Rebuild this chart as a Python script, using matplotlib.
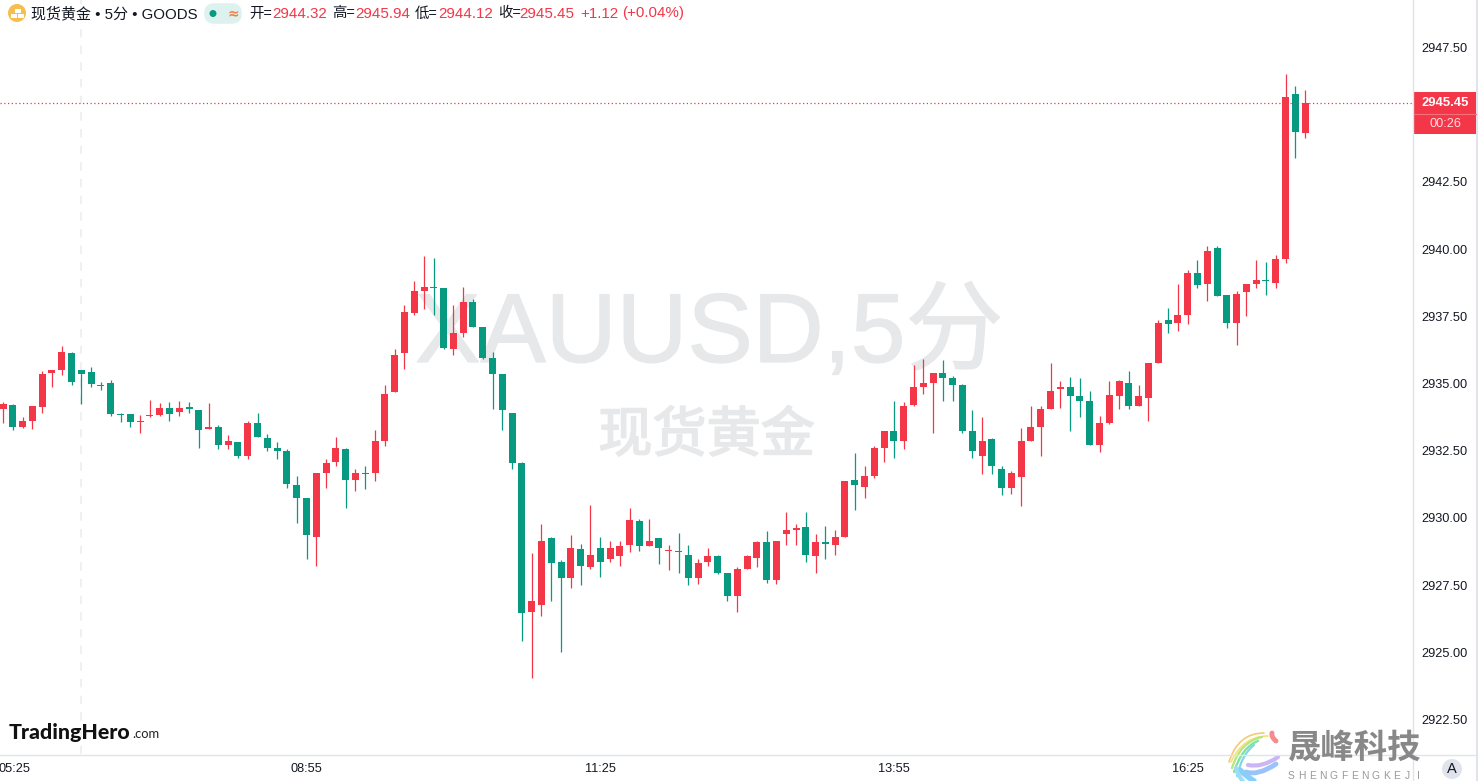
import matplotlib
matplotlib.use("Agg")
import matplotlib.pyplot as plt
import matplotlib.patheffects as pe
from matplotlib.patches import Circle, FancyBboxPatch, Rectangle, PathPatch
from matplotlib.path import Path

opens = [2934.04,2934.19,2933.37,2933.60,2934.12,2935.38,2935.49,2936.13,2935.49,2935.42,
2934.94,2935.01,2933.86,2933.86,2933.56,2933.78,2933.82,2934.08,2933.93,2934.12,
2934.01,2933.30,2933.37,2932.70,2932.82,2932.29,2933.55,2932.96,2932.62,2932.51,
2931.21,2930.73,2929.28,2931.69,2932.07,2932.55,2931.40,2931.66,2931.66,2932.85,
2934.67,2936.12,2937.61,2938.43,2938.58,2938.54,2936.27,2936.90,2938.02,2937.09,
2935.97,2935.34,2933.89,2932.03,2926.49,2926.78,2929.24,2928.35,2927.75,2928.83,
2928.16,2928.90,2928.49,2928.57,2928.98,2929.87,2928.94,2929.24,2928.76,2928.76,
2928.61,2927.75,2928.35,2928.57,2927.94,2927.08,2928.09,2928.53,2929.09,2927.68,
2929.42,2929.54,2929.65,2928.57,2929.09,2928.98,2929.31,2931.40,2931.17,2931.58,
2932.59,2933.22,2932.85,2934.19,2934.89,2935.04,2935.41,2935.19,2934.93,2933.22,
2932.32,2932.92,2931.84,2931.10,2931.51,2932.88,2933.40,2934.04,2934.78,2934.89,
2934.52,2934.37,2932.70,2933.55,2934.52,2935.04,2934.15,2934.48,2935.78,2937.35,
2937.27,2937.57,2939.10,2938.69,2940.03,2938.28,2937.24,2938.39,2938.72,2938.83,
2938.76,2939.62,2945.76,2944.32]
highs = [2934.30,2934.23,2933.75,2934.16,2935.46,2935.49,2936.39,2936.16,2935.49,2935.61,
2935.05,2935.12,2933.90,2933.86,2933.82,2934.38,2934.27,2934.30,2934.34,2934.30,
2934.01,2934.27,2933.45,2933.08,2932.82,2933.59,2933.89,2933.14,2932.81,2932.55,
2931.58,2930.73,2931.69,2932.21,2933.00,2932.59,2931.84,2931.95,2933.26,2934.93,
2936.27,2937.94,2938.80,2939.73,2939.69,2938.54,2937.94,2938.58,2938.13,2937.09,
2936.16,2935.34,2933.89,2932.07,2928.68,2929.76,2929.28,2928.42,2929.35,2929.02,
2930.50,2929.28,2929.13,2929.16,2930.36,2929.98,2929.98,2929.24,2928.98,2929.43,
2928.98,2928.49,2928.87,2928.61,2927.97,2928.16,2928.64,2929.13,2929.50,2929.16,
2930.24,2929.76,2930.24,2929.42,2929.72,2929.57,2931.36,2932.40,2931.92,2932.66,
2933.22,2934.34,2934.30,2935.71,2935.90,2935.41,2935.86,2935.27,2934.97,2934.00,
2933.74,2932.96,2931.92,2931.73,2933.33,2934.18,2934.18,2935.75,2935.08,2935.23,
2935.19,2934.71,2933.78,2935.08,2935.15,2935.45,2934.93,2935.75,2937.35,2937.83,
2938.69,2939.24,2939.58,2940.10,2940.10,2938.31,2938.43,2938.69,2939.58,2939.54,
2939.80,2946.50,2946.06,2945.94]
lows = [2933.52,2933.26,2933.34,2933.30,2933.90,2934.86,2935.31,2934.94,2934.23,2934.86,
2934.75,2933.78,2933.56,2933.37,2933.15,2933.75,2933.78,2933.60,2933.78,2933.90,
2932.59,2933.30,2932.56,2932.56,2932.22,2932.18,2933.00,2932.51,2932.21,2931.10,
2929.83,2928.46,2928.23,2931.10,2931.92,2930.39,2931.02,2931.06,2931.36,2932.66,
2934.67,2935.56,2937.57,2937.76,2937.57,2936.27,2936.08,2936.72,2937.09,2935.93,
2934.04,2933.29,2931.84,2925.41,2924.03,2926.37,2926.93,2925.00,2927.38,2927.49,
2928.12,2927.79,2928.38,2928.23,2928.72,2928.76,2928.94,2928.27,2928.05,2927.94,
2927.49,2927.53,2928.23,2927.90,2926.93,2926.52,2928.09,2928.16,2927.60,2927.53,
2928.98,2928.98,2928.38,2927.94,2928.49,2928.61,2929.31,2930.28,2930.73,2931.47,
2932.07,2932.22,2932.55,2934.15,2934.63,2933.15,2934.37,2934.34,2933.15,2932.25,
2931.62,2931.65,2930.87,2930.91,2930.46,2932.85,2932.29,2934.04,2934.11,2933.25,
2933.74,2932.70,2932.47,2933.48,2934.04,2934.07,2934.15,2933.59,2935.75,2936.90,
2936.97,2937.20,2938.57,2938.09,2938.24,2937.05,2936.42,2937.53,2938.54,2938.28,
2938.54,2939.47,2943.38,2944.12]
closes = [2934.23,2933.37,2933.60,2934.16,2935.35,2935.49,2936.16,2935.05,2935.35,2934.97,
2934.90,2933.86,2933.82,2933.56,2933.60,2933.82,2934.08,2933.86,2934.08,2934.04,
2933.26,2933.37,2932.70,2932.85,2932.30,2933.55,2933.00,2932.62,2932.48,2931.25,
2930.73,2929.35,2931.69,2932.03,2932.59,2931.40,2931.66,2931.62,2932.85,2934.60,
2936.05,2937.68,2938.46,2938.58,2938.54,2936.31,2936.90,2938.02,2937.09,2935.97,
2935.34,2934.00,2932.03,2926.45,2926.93,2929.16,2928.31,2927.75,2928.87,2928.23,
2928.61,2928.38,2928.90,2928.94,2929.91,2928.94,2929.16,2928.90,2928.79,2928.72,
2927.75,2928.31,2928.57,2927.97,2927.08,2928.09,2928.57,2929.09,2927.71,2929.16,
2929.54,2929.61,2928.61,2929.09,2929.02,2929.31,2931.36,2931.21,2931.58,2932.59,
2933.22,2932.88,2934.15,2934.86,2935.04,2935.38,2935.19,2934.93,2933.22,2932.48,
2932.85,2931.92,2931.10,2931.69,2932.85,2933.40,2934.07,2934.74,2934.89,2934.52,
2934.37,2932.70,2933.55,2934.56,2935.11,2934.15,2934.52,2935.75,2937.27,2937.20,
2937.57,2939.10,2938.65,2939.95,2938.24,2937.24,2938.35,2938.69,2938.87,2938.80,
2939.65,2945.68,2944.35,2945.45]
price_ticks = [2922.5,2925.0,2927.5,2930.0,2932.5,2935.0,2937.5,2940.0,2942.5,2947.5]
time_ticks = [1.15,31,61,91,121]
time_labels = ["05:25","08:55","11:25","13:55","16:25"]
crosshair_bar = 8

RED = "#F33648"
GREEN = "#089981"
WM = "#E7E8EA"
LINE = "#E0E3EB"
INK = "#131722"
SANS = ["Liberation Sans", "Noto Sans CJK SC", "DejaVu Sans"]
CJK = ["Noto Sans CJK SC", "DejaVu Sans"]
plt.rcParams["font.family"] = SANS

W, H = 1478, 781
fig = plt.figure(figsize=(W / 100, H / 100), dpi=100, facecolor="white")

def overlay(z):
    a = fig.add_axes([0, 0, 1, 1], zorder=z)
    a.set_xlim(0, W); a.set_ylim(H, 0); a.axis("off")
    a.patch.set_visible(False)
    return a

bg = overlay(0)
t1 = bg.text(415, 362, "XAUUSD,5分", fontsize=70.6, color=WM, va="baseline", ha="left", family=SANS)
t1.set_path_effects([pe.withStroke(linewidth=0.9, foreground=WM)])
t2 = bg.text(706.5, 436, "现货黄金", fontsize=39, color=WM, va="center", ha="center", family=CJK)
t2.set_path_effects([pe.withStroke(linewidth=1.3, foreground=WM)])

ax = fig.add_axes([0, (H - 754) / H, 1413 / W, 754 / H], zorder=1)
ax.patch.set_visible(False)
ax.set_xlim(-0.31, 144.02)
ax.set_ylim(2921.22, 2949.27)
for s in ax.spines.values():
    s.set_visible(False)

idx = list(range(len(opens)))
colors = [RED if c >= o else GREEN for o, c in zip(opens, closes)]
ax.axvline(crosshair_bar, color="#EEF0F4", lw=1.5, ls=(0, (4, 4)), zorder=1)
wicks = ax.vlines(idx, lows, highs, colors=colors, lw=0.9, zorder=2)
wicks.set_snap(True)
ax.bar(idx, [max(abs(c - o), 0.04) for o, c in zip(opens, closes)],
       bottom=[min(o, c) for o, c in zip(opens, closes)],
       width=0.715, color=colors, linewidth=0, zorder=3)
ax.axhline(closes[-1], color=RED, lw=0.9, ls=(0, (1, 2)), zorder=4)

ax.yaxis.tick_right()
ax.set_yticks(price_ticks)
ax.set_yticklabels([f"{p:.2f}" for p in price_ticks])
ax.set_xticks(time_ticks)
ax.set_xticklabels(time_labels)
ax.tick_params(axis="y", length=0, pad=6.3, labelsize=9.2, labelcolor=INK)
ax.tick_params(axis="x", length=0, pad=6.5, labelsize=9.2, labelcolor=INK)

fg = overlay(2)
fg.plot([1413, 1413], [0, 781], color=LINE, lw=1)
fg.plot([0, 1478], [754.5, 754.5], color=LINE, lw=1)
fg.add_patch(Rectangle((1476, 0), 2, 781, color=LINE, lw=0))

# header
fg.add_patch(Circle((17, 13), 9, color="#F5BE4F", lw=0))
for (x, y) in [(14.5, 8.5), (10.5, 13.5), (17.5, 13.5)]:
    fg.add_patch(Rectangle((x, y), 6, 4, color="white", lw=0))
ty = 13.5
fg.text(31, ty, "现货黄金 • 5分 • GOODS", fontsize=10.8, color=INK, va="center", family=SANS)
fg.add_patch(FancyBboxPatch((207, 6), 32, 15, boxstyle="round,pad=0,rounding_size=7", mutation_aspect=1,
                            fc="#DDF2EE", ec="#DDF2EE", lw=4))
fg.add_patch(Circle((213, 13.5), 3.5, color=GREEN, lw=0))
fg.text(233, ty, "≈", fontsize=10, color="#F57C45", va="center", ha="center", family=["DejaVu Sans"], weight="bold")
for x, s in [(249, "开="), (332, "高="), (415, "低="), (498, "收=")]:
    fg.text(x, ty, s, fontsize=10.4, color=INK, va="center", family=SANS)
for x, s in [(272, "2944.32"), (355, "2945.94"), (438, "2944.12"), (519.5, "2945.45"),
             (580, "+1.12"), (622, "(+0.04%)")]:
    fg.text(x, ty, s, fontsize=10.9, color=RED, va="center", family=SANS)

# price label
fg.add_patch(Rectangle((1414, 92), 62, 42, color=RED, lw=0))
fg.plot([1414, 1476], [113.5, 113.5], color="#F6707B", lw=0.8)
fg.text(1445, 102.5, f"{closes[-1]:.2f}", fontsize=9.4, color="white", weight="bold", ha="center", va="center")
fg.text(1445, 124, "00:26", fontsize=9.2, color="#FFDDE0", ha="center", va="center")

# TradingHero logo
fg.text(9, 732, "TradingHero", fontsize=15.4, color="#111111", weight="black", family=["Lato", "DejaVu Sans"], va="center")
fg.text(132, 733.5, ".com", fontsize=9.4, color="#222222", family=["Lato", "DejaVu Sans"], va="center")

# A button
fg.add_patch(Circle((1452, 769), 10, color=LINE, lw=0))
fg.text(1452, 769, "A", fontsize=10.5, color=INK, ha="center", va="center")

# second watermark logo
def ribbon(p0, c, p1, color, lw):
    fg.add_patch(PathPatch(Path([p0, c, p1], [Path.MOVETO, Path.CURVE3, Path.CURVE3]),
                           fc="none", ec=color, lw=lw, capstyle="round"))
ribbon((1264, 733), (1238, 733), (1229, 762), "#F7C873", 1.2)
ribbon((1268, 736), (1243, 736), (1231, 762), "#F3E27A", 1.2)
ribbon((1262, 737), (1240, 742), (1232, 768), "#B6E67C", 1.6)
ribbon((1258, 741), (1242, 747), (1234, 772), "#7FE29B", 1.6)
ribbon((1254, 745), (1242, 754), (1237, 776), "#7FD8E8", 1.6)
ribbon((1272, 733), (1271, 737), (1276, 741), "#F58C8C", 3.5)
ribbon((1278, 757), (1262, 768), (1248, 765), "#C9B6F5", 3)
ribbon((1276, 764), (1258, 776), (1246, 772), "#9CC2FA", 3.5)
ribbon((1240, 770), (1246, 776), (1254, 781), "#86CFFA", 4)
ribbon((1236, 768), (1238, 776), (1243, 781), "#9FDCF8", 3)
fg.text(1355, 748, "晟峰科技", fontsize=24, color="#888888", weight="bold", ha="center", va="center",
        family=CJK)
for k, ch in enumerate("SHENGFENGKEJI"):
    fg.text(1291 + k * 10.6, 776, ch, fontsize=7.4, color="#999999", ha="center", va="center", family=SANS)

fig.savefig("out.png", dpi=100, facecolor="white")
